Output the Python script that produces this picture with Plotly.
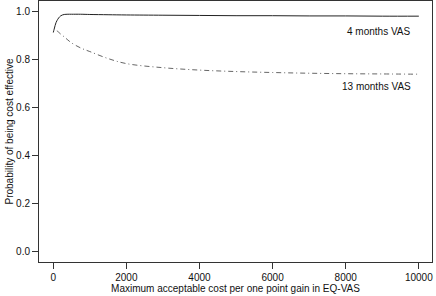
import plotly.graph_objects as go

x_vals = [0, 25, 50, 75, 100, 150, 200, 250, 300, 400, 500, 750, 1000, 1500, 2000,
          3000, 4000, 5000, 6000, 7000, 8000, 9000, 10000]
vas_4 = [0.912, 0.925, 0.94, 0.952, 0.96, 0.972, 0.98, 0.984, 0.986, 0.987, 0.987, 0.987,
         0.986, 0.985, 0.984, 0.983, 0.982, 0.981, 0.981, 0.980, 0.980, 0.979, 0.979]
vas_13 = [0.912, 0.915, 0.917, 0.918, 0.918, 0.912, 0.905, 0.899, 0.893, 0.88, 0.868, 0.847,
          0.832, 0.803, 0.782, 0.765, 0.755, 0.749, 0.745, 0.742, 0.740, 0.739, 0.738]
x_ticks = [0, 2000, 4000, 6000, 8000, 10000]
x_ticklabels = ["0", "2000", "4000", "6000", "8000", "10000"]
y_ticks = [0.0, 0.2, 0.4, 0.6, 0.8, 1.0]
y_ticklabels = ["0.0", "0.2", "0.4", "0.6", "0.8", "1.0"]
labels = ["4 months VAS", "13 months VAS"]
label_pos = [(9850, 0.917), (9850, 0.688)]

font = "Liberation Sans, Arial, sans-serif"
fig = go.Figure()
fig.add_trace(go.Scatter(x=x_vals, y=vas_4, mode="lines",
                         line=dict(color="#222", width=1, shape="spline")))
fig.add_trace(go.Scatter(x=x_vals, y=vas_13, mode="lines",
                         line=dict(color="#555", width=0.9, dash="1px,3px,5px,3px", shape="spline")))
for t, (lx, ly) in zip(labels, label_pos):
    fig.add_annotation(x=lx, y=ly, text=t, showarrow=False, xanchor="right",
                       yanchor="middle", font=dict(size=10, color="#111", family=font))

axis_common = dict(showline=True, mirror=True, linecolor="#333", linewidth=1,
                   ticks="outside", ticklen=6, tickcolor="#333", showgrid=False,
                   zeroline=False, tickfont=dict(size=10, color="#111", family=font))
fig.update_layout(
    width=436, height=296,
    margin=dict(l=39, r=4, t=1, b=34),
    paper_bgcolor="white", plot_bgcolor="white",
    showlegend=False,
    xaxis=dict(range=[-390, 10360], tickvals=x_ticks, ticktext=x_ticklabels, **axis_common,
               title=dict(text="Maximum acceptable cost per one point gain in EQ-VAS",
                          font=dict(size=10, color="#111", family=font), standoff=2)),
    yaxis=dict(range=[-0.042, 1.042], tickvals=y_ticks, ticktext=y_ticklabels, **axis_common,
               title=dict(text="Probability of being cost effective",
                          font=dict(size=10, color="#111", family=font), standoff=0)),
)
fig.write_html("out.html", config={"displayModeBar": False},
               post_script="document.body.style.margin='0';document.body.style.overflow='hidden';")
